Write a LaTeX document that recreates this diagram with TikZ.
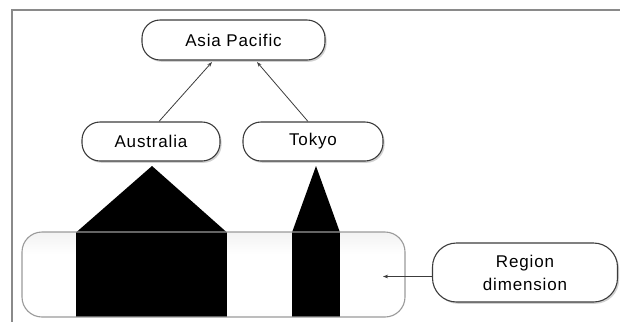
\documentclass[tikz,border=0pt]{standalone}
\usepackage{fontspec}
\setmainfont[LetterSpace=5]{Liberation Sans}
\usetikzlibrary{arrows.meta,shadows}
\definecolor{edge}{HTML}{3C3C3C}
\definecolor{framec}{HTML}{8A8A8A}
\definecolor{barc}{HTML}{9A9A9A}
\pgfdeclareverticalshading{barshade}{100bp}{color(0bp)=(gray!14); color(30bp)=(white); color(62bp)=(white); color(100bp)=(gray!30)}
\tikzset{
  pill/.style={draw=edge, line width=1.1pt, fill=white, rounded corners=#1,
    inner sep=0pt, align=center, font=\fontsize{17}{23}\selectfont,
    drop shadow={shadow xshift=1.6pt, shadow yshift=-1.8pt, fill=black, opacity=0.18}},
  pill/.default=18pt,
  arr/.style={draw=edge, line width=0.8pt, -{Stealth[length=5pt,width=3.6pt]}},
  blk/.style={fill=black, draw=none},
  framel/.style={draw=framec, line width=1.6pt}
}
\begin{document}
\begin{tikzpicture}[x=1pt,y=-1pt]
\useasboundingbox (0,0) rectangle (620,322);
% frame
\coordinate (f1) at (620,10);
\coordinate (f2) at (12,10);
\coordinate (f3) at (12,322);
\draw[framel] (f1) -- (f2) -- (f3);
% region bar
\shade[shading=barshade, rounded corners=20pt] (22,232) rectangle (405,317);
\fill[blk] (76,232) rectangle (227,317);
\fill[blk] (292,232) rectangle (340,317);
\fill[blk] (76,232.5) -- (152,166) -- (227,232.5) -- cycle;
\fill[blk] (292,232.5) -- (316,166) -- (340,232.5) -- cycle;
\draw[draw=barc, line width=1.1pt, rounded corners=20pt] (22,232) rectangle (405,317);
\coordinate (bar) at (383,276.5);
% nodes
\node[pill, minimum width=183pt, minimum height=40pt] (ap) at (233.5,40) {Asia Pacific};
\node[pill, minimum width=138pt, minimum height=39pt] (aus) at (151,141.5) {Australia};
\node[pill, minimum width=140pt, minimum height=39pt] (tok) at (313,141.5) {Tokyo};
\node[pill=24pt, minimum width=185pt, minimum height=59pt] (rd) at (525,272.5) {Region\\dimension};
% connectors
\draw[arr] ([xshift=8pt]aus.north) -- ([xshift=-21.5pt,yshift=-1.5pt]ap.south);
\draw[arr] ([xshift=-5pt]tok.north) -- ([xshift=23.5pt,yshift=-1.5pt]ap.south);
\draw[arr] ([yshift=-4pt]rd.west) -- (bar);
\end{tikzpicture}
\end{document}
